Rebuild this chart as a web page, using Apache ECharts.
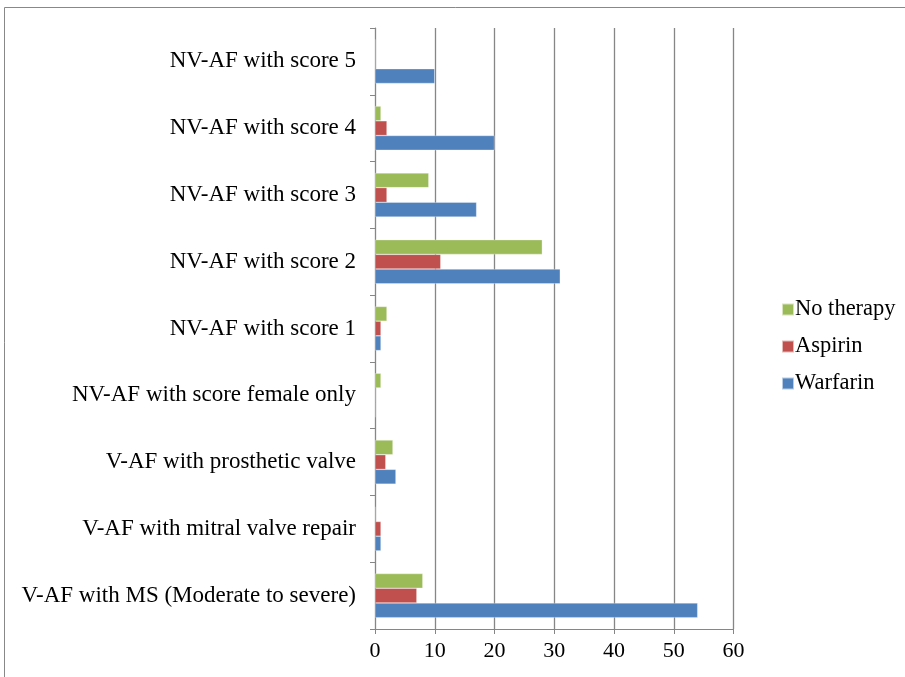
<!DOCTYPE html>
<html><head><meta charset="utf-8">
<script src="https://cdn.jsdelivr.net/npm/echarts@6/dist/echarts.min.js"></script>
<style>html,body{margin:0;padding:0;background:#fff}#c{width:905px;height:677px}</style>
</head><body><div id="c"></div>
<script>
const categories = ["V-AF with MS (Moderate to severe)","V-AF with mitral valve repair","V-AF with prosthetic valve","NV-AF with score female only","NV-AF with score 1","NV-AF with score 2","NV-AF with score 3","NV-AF with score 4","NV-AF with score 5"];
const warfarin = [54, 1, 3.5, 0, 1, 31, 17, 20, 10];
const aspirin = [7, 1, 1.8, 0, 1, 11, 2, 2, 0];
const noTherapy = [8, 0, 3, 1, 2, 28, 9, 1, 0];
const xTicks = {min: 0, max: 60, interval: 10};

const font = "'Liberation Serif','Times New Roman',serif";
const chart = echarts.init(document.getElementById('c'));
const mk = (name, data, color) => ({name, type:'bar', data, barGap:'0%', barCategoryGap:'34%',
  itemStyle:{color, borderColor:'rgba(255,255,255,0.6)', borderWidth:0.5}});
chart.setOption({
  animation:false,
  graphic:[{type:'rect', shape:{x:4.5,y:7.5,width:950,height:720}, style:{fill:'none', stroke:'#888', lineWidth:1}, z:-1}],
  grid:{left:375, right:171.5, top:28, bottom:48},
  legend:{orient:'vertical', left:776, top:293, itemWidth:12, itemHeight:12, itemGap:14,
    data:['No therapy','Aspirin','Warfarin'], icon:'rect',
    textStyle:{fontFamily:font, fontSize:22.5, color:'#000', padding:[0,0,0,-4]}},
  xAxis:{type:'value', min:xTicks.min, max:xTicks.max, interval:xTicks.interval,
    axisLine:{show:true, lineStyle:{color:'#868686'}},
    axisTick:{show:true, length:5, lineStyle:{color:'#868686'}},
    splitLine:{show:true, lineStyle:{color:'#868686', width:1.3}},
    axisLabel:{fontFamily:font, fontSize:22, color:'#000', margin:11}},
  yAxis:{type:'category', data:categories,
    axisLine:{show:true, lineStyle:{color:'#868686'}},
    axisTick:{show:true, length:5, lineStyle:{color:'#868686'}},
    axisLabel:{fontFamily:font, fontSize:23, color:'#000', margin:19}},
  series:[mk('No therapy', noTherapy, '#9BBB59'), mk('Aspirin', aspirin, '#C0504D'), mk('Warfarin', warfarin, '#4F81BD')]
});
</script></body></html>
